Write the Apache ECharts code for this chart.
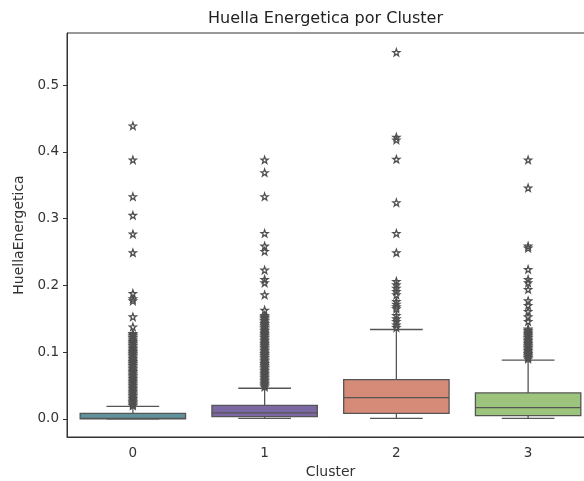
<!DOCTYPE html>
<html>
<head>
<meta charset="utf-8">
<script src="https://cdn.jsdelivr.net/npm/echarts@6/dist/echarts.min.js"></script>
<style>
  html, body { margin: 0; padding: 0; background: #fff; }
  #chart { width: 584px; height: 481px; }
</style>
</head>
<body>
<div id="chart"></div>
<script>
// Cluster categories and tick values
const clusters = ['0', '1', '2', '3'];
const yTicks = [0, 0.1, 0.2, 0.3, 0.4, 0.5];

// Box statistics per cluster: [lower whisker, Q1, median, Q3, upper whisker]
const boxStats0 = [0.0, 0.0, 0.001, 0.0085, 0.019];
const boxStats1 = [0.001, 0.0035, 0.009, 0.0205, 0.046];
const boxStats2 = [0.001, 0.0085, 0.032, 0.059, 0.134];
const boxStats3 = [0.001, 0.005, 0.017, 0.039, 0.088];

// Outliers per cluster
const outliers0 = [0.439, 0.388, 0.333, 0.305, 0.277, 0.249, 0.188, 0.180, 0.177, 0.153, 0.138,
  0.128, 0.127, 0.125, 0.123, 0.122, 0.120, 0.118, 0.116, 0.115, 0.113, 0.111, 0.110, 0.108,
  0.106, 0.105, 0.103, 0.101, 0.100, 0.098, 0.096, 0.095, 0.093, 0.091, 0.090, 0.088, 0.086,
  0.085, 0.083, 0.081, 0.080, 0.078, 0.076, 0.075, 0.073, 0.071, 0.070, 0.068, 0.066, 0.065,
  0.063, 0.061, 0.060, 0.058, 0.056, 0.055, 0.053, 0.051, 0.050, 0.048, 0.046, 0.045, 0.043,
  0.041, 0.040, 0.038, 0.036, 0.035, 0.033, 0.031, 0.030, 0.028, 0.026, 0.025, 0.023, 0.021, 0.020];
const outliers1 = [0.388, 0.369, 0.333, 0.278, 0.259, 0.251, 0.223, 0.209, 0.204, 0.186, 0.163,
  0.155, 0.153, 0.152, 0.150, 0.148, 0.147, 0.145, 0.143, 0.142, 0.140, 0.138, 0.137, 0.135,
  0.133, 0.132, 0.130, 0.128, 0.127, 0.125, 0.123, 0.122, 0.120, 0.118, 0.117, 0.115, 0.113,
  0.112, 0.110, 0.108, 0.107, 0.105, 0.103, 0.102, 0.100, 0.098, 0.097, 0.095, 0.093, 0.092,
  0.090, 0.088, 0.087, 0.085, 0.083, 0.082, 0.080, 0.078, 0.077, 0.075, 0.073, 0.072, 0.070,
  0.068, 0.067, 0.065, 0.063, 0.062, 0.060, 0.058, 0.057, 0.055, 0.053, 0.052, 0.050, 0.048];
const outliers2 = [0.549, 0.422, 0.418, 0.389, 0.324, 0.278, 0.249, 0.206, 0.201, 0.196, 0.191,
  0.186, 0.176, 0.172, 0.168, 0.165, 0.155, 0.150, 0.146, 0.141, 0.137];
const outliers3 = [0.388, 0.346, 0.259, 0.256, 0.224, 0.209, 0.204, 0.194, 0.177, 0.170, 0.161,
  0.153, 0.146, 0.135, 0.133, 0.132, 0.130, 0.128, 0.127, 0.125, 0.123, 0.122, 0.120, 0.118,
  0.117, 0.115, 0.113, 0.112, 0.110, 0.108, 0.107, 0.105, 0.103, 0.102, 0.100, 0.098, 0.097,
  0.095, 0.093, 0.092, 0.090];

const boxColors = ['#5f929c', '#7c68a2', '#d68a78', '#9dc47d'];
const lineColor = '#555555';

const boxData = [boxStats0, boxStats1, boxStats2, boxStats3].map((s, i) => [i].concat(s));
const outlierData = [];
[outliers0, outliers1, outliers2, outliers3].forEach((arr, i) => {
  arr.forEach(v => outlierData.push([i, v]));
});

const starPath = 'path://M0,-10L2.35,-3.24L9.51,-3.09L3.8,1.24L5.88,8.09L0,4L-5.88,8.09L-3.8,1.24L-9.51,-3.09L-2.35,-3.24Z';

function renderBox(params, api) {
  const idx = api.value(0);
  const lo = api.coord([idx, api.value(1)]);
  const q1 = api.coord([idx, api.value(2)]);
  const med = api.coord([idx, api.value(3)]);
  const q3 = api.coord([idx, api.value(4)]);
  const hi = api.coord([idx, api.value(5)]);
  const band = api.size([1, 0])[0];
  const half = band * 0.8 / 2;
  const capHalf = half / 2;
  const x = lo[0];
  const stroke = { stroke: lineColor, lineWidth: 1.3 };
  return {
    type: 'group',
    children: [
      { type: 'line', shape: { x1: x, y1: q3[1], x2: x, y2: hi[1] }, style: stroke },
      { type: 'line', shape: { x1: x, y1: q1[1], x2: x, y2: lo[1] }, style: stroke },
      { type: 'line', shape: { x1: x - capHalf, y1: hi[1], x2: x + capHalf, y2: hi[1] }, style: stroke },
      { type: 'line', shape: { x1: x - capHalf, y1: lo[1], x2: x + capHalf, y2: lo[1] }, style: stroke },
      {
        type: 'rect',
        shape: { x: x - half, y: q3[1], width: half * 2, height: q1[1] - q3[1] },
        style: { fill: boxColors[idx], stroke: lineColor, lineWidth: 1.3 }
      },
      { type: 'line', shape: { x1: x - half, y1: med[1], x2: x + half, y2: med[1] }, style: stroke }
    ]
  };
}

const chart = echarts.init(document.getElementById('chart'), null, { renderer: 'canvas' });
chart.setOption({
  animation: false,
  backgroundColor: '#ffffff',
  textStyle: { fontFamily: 'DejaVu Sans' },
  graphic: [{
    type: 'text',
    left: 208,
    top: 11,
    style: {
      text: 'Huella Energetica por Cluster',
      font: '16px "DejaVu Sans"',
      fill: '#222'
    }
  }],
  grid: {
    left: 67, width: 527, top: 33, height: 404,
    outerBoundsMode: 'none',
    containLabel: false,
    show: true, borderColor: '#333', borderWidth: 1, backgroundColor: 'transparent'
  },
  xAxis: {
    type: 'category',
    data: clusters,
    boundaryGap: true,
    name: 'Cluster',
    nameLocation: 'middle',
    nameGap: 27,
    nameTextStyle: { fontSize: 14, color: '#333' },
    axisLine: { onZero: false, lineStyle: { color: '#333', width: 1 } },
    axisTick: { alignWithLabel: true, length: 4, lineStyle: { color: '#333' } },
    axisLabel: { fontSize: 13.5, color: '#333', margin: 9 },
    splitLine: { show: false }
  },
  yAxis: {
    type: 'value',
    min: -0.027,
    max: 0.578,
    name: 'HuellaEnergetica',
    nameLocation: 'middle',
    nameGap: 38,
    nameTextStyle: { fontSize: 14, color: '#333' },
    axisLine: { show: true, lineStyle: { color: '#333', width: 1 } },
    axisTick: { show: true, length: 4, customValues: yTicks, lineStyle: { color: '#333' } },
    axisLabel: {
      fontSize: 13.5, color: '#333', margin: 8, customValues: yTicks,
      formatter: v => v.toFixed(1)
    },
    splitLine: { show: false }
  },
  series: [
    {
      type: 'custom',
      renderItem: renderBox,
      encode: { x: 0, y: [1, 2, 3, 4, 5] },
      data: boxData,
      z: 2
    },
    {
      type: 'scatter',
      data: outlierData,
      symbol: starPath,
      symbolSize: [7, 7],
      itemStyle: { color: 'rgba(255,255,255,0)', borderColor: '#505050', borderWidth: 1.3, opacity: 1 },
      z: 3
    }
  ]
});
</script>
</body>
</html>
